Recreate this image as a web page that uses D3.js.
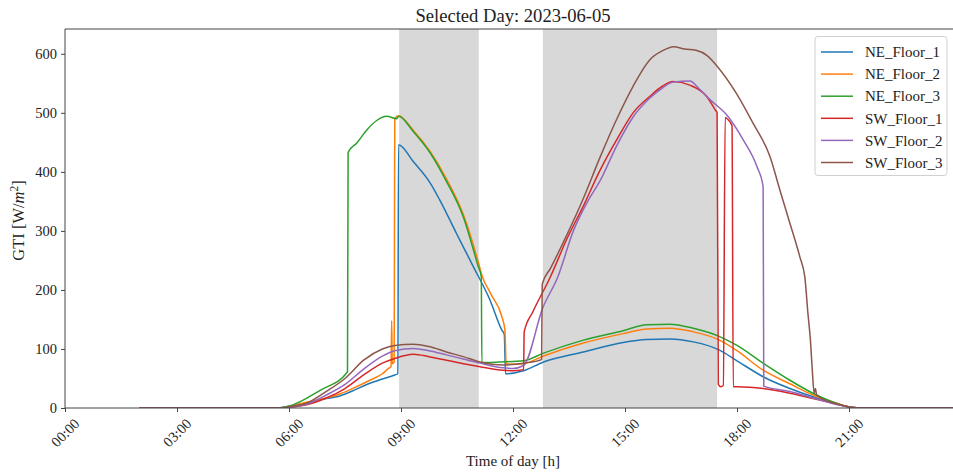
<!DOCTYPE html>
<html lang="en">
	<head>
		<meta charset="utf-8">
		<title>GTI - Selected Day</title>
		<script type="text/javascript" src="https://cdn.jsdelivr.net/npm/d3@7/dist/d3.min.js"></script>
		<style type="text/css">
			body { margin: 0; background: #fff; }
			text { font-family: "Liberation Serif", "Times New Roman", serif; fill: #222; }
		</style>
	</head>
	<body>
		<script type="text/javascript">

			// values: [time of day, GTI in W/m2]
			var neFloor1 = [["02:00",0],["05:40",0],["06:00",3],["06:30",9],["07:00",16],["07:17",19],["07:40",28],["08:10",42],["08:30",49],["08:50",56],["08:55",58],
				["08:56",446],["09:20",417],["09:47",381],["10:02",353],["10:29",296],["10:56",240],["11:23",183],["11:42",132],["11:46",125],
				["11:48",58],["12:17",63],["12:49",78],["13:53",95],["14:57",111],["15:35",116],["16:12",117],["16:50",112],["17:32",98],["18:00",80],
				["18:42",53],["19:25",33],["20:02",19],["20:40",7],["21:06",1],["21:30",0],["23:59",0]];

			var neFloor2 = [["02:00",0],["05:45",0],["06:00",3],["06:30",10],["07:00",17],["07:17",22],["07:40",32],["08:10",47],["08:30",58],["08:40",67],["08:44",70],
				["08:45",148],["08:46",75],["08:49",78],["08:50",490],["08:56",495],["09:20",470],["09:47",434],["10:13",388],["10:40",328],["11:04",248],
				["11:10",225],["11:25",192],["11:42",155],["11:47",132],["11:49",76],["11:55",74],["12:17",75],["12:49",88],["13:53",110],["14:57",126],
				["15:35",134],["16:12",135],["16:50",129],["17:32",115],["18:00",97],["18:42",64],["19:25",41],["20:02",22],["20:40",8],["21:06",1],["21:30",0],["23:59",0]];

			var neFloor3 = [["02:00",0],["05:40",0],["06:00",3],["06:50",30],["07:34",61],["07:35",433],["07:49",449],["08:05",471],["08:21",487],["08:37",494],
				["08:53",490],["08:56",494],["09:20",468],["09:47",432],["10:13",384],["10:40",324],["11:04",240],["11:09",222],["11:10",77],["11:39",78],
				["12:17",80],["12:49",93],["13:53",115],["14:57",131],["15:35",141],["16:12",142],["16:50",135],["17:32",121],["18:00",106],["18:42",76],
				["19:25",47],["20:02",25],["20:40",8],["21:06",1],["21:30",0],["23:59",0]];

			var swFloor1 = [["02:00",0],["05:45",0],["06:00",1],["06:30",6],["07:00",17],["07:30",33],["08:00",56],["08:30",76],["08:50",84],["09:20",91],["09:45",87],
				["10:13",81],["10:40",75],["11:07",70],["11:44",64],["12:00",63],["12:17",65],["12:18",129],["12:32",163],["13:00",222],["13:26",285],["13:53",342],
				["14:20",403],["14:47",455],["15:13",500],["15:40",528],["16:00",545],["16:17",553],["16:44",547],["17:11",528],["17:25",505],["17:28",500],
				["17:30",40],["17:34",36],["17:38",38],["17:41",492],["17:46",488],["17:52",478],["17:54",36],["18:00",36],["18:42",33],["19:25",25],
				["20:02",16],["20:40",7],["21:06",1],["21:30",0],["23:59",0]];

			var swFloor2 = [["02:00",0],["05:45",0],["06:00",1],["06:30",7],["07:00",22],["07:30",40],["08:00",66],["08:30",88],["08:50",97],["09:20",101],["09:45",97],
				["10:13",90],["10:40",83],["11:07",76],["11:44",68],["12:00",67],["12:17",72],["12:48",170],["13:12",222],["13:37",300],["14:00",350],["14:20",385],
				["14:47",445],["15:13",493],["15:40",525],["16:00",542],["16:17",552],["16:44",554],["17:00",540],["17:17",522],["17:43",497],["18:10",454],
				["18:32",409],["18:42",375],["18:43",37],["19:25",28],["20:02",17],["20:40",6],["21:06",1],["21:30",0],["23:59",0]];

			var swFloor3 = [["02:00",0],["05:45",0],["06:00",2],["06:30",9],["07:00",28],["07:30",50],["08:00",81],["08:30",100],["08:50",106],["09:20",108],["09:45",104],
				["10:13",95],["10:40",87],["11:07",78],["11:44",73],["12:17",76],["12:46",82],["12:47",210],["13:00",236],["13:26",292],["13:53",355],["14:20",425],
				["14:47",490],["15:13",545],["15:40",590],["16:00",605],["16:18",612],["16:36",608],["16:54",606],["17:12",597],["17:28",579],["17:59",533],
				["18:26",482],["18:53",426],["19:09",369],["19:25",313],["19:41",256],["19:49",222],["19:54",160],["19:58",115],["20:01",64],["20:04",25],
				["20:06",33],["20:08",22],["20:40",7],["21:06",1],["21:30",0],["23:59",0]];

			var seriesNames = ["NE_Floor_1", "NE_Floor_2", "NE_Floor_3", "SW_Floor_1", "SW_Floor_2", "SW_Floor_3"];
			var seriesData = [neFloor1, neFloor2, neFloor3, swFloor1, swFloor2, swFloor3];
			var colors = ["#1f77b4", "#ff7f0e", "#2ca02c", "#d62728", "#9467bd", "#8c564b"];

			// shaded periods
			var shadeStart = ["08:57", "12:48"];
			var shadeEnd = ["11:05", "17:28"];

			var yTicks = [0, 100, 200, 300, 400, 500, 600];
			var xTicks = ["00:00", "03:00", "06:00", "09:00", "12:00", "15:00", "18:00", "21:00"];

			var w = 953;
			var h = 473;
			var padLeft = 65, padTop = 29, plotRight = 961, plotBottom = 408;

			var parseTime = d3.timeParse("%H:%M");
			var day0 = parseTime("00:00");
			var day1 = d3.timeDay.offset(day0, 1);

			var xScale = d3.scaleTime()
						   .domain([day0, day1])
						   .range([padLeft, plotRight]);

			var yScale = d3.scaleLinear()
						   .domain([0, 642])
						   .range([plotBottom, padTop]);

			var svg = d3.select("body")
						.append("svg")
						.attr("width", w)
						.attr("height", h);

			svg.append("defs").append("clipPath")
			   .attr("id", "plot")
			   .append("rect")
			   .attr("x", padLeft)
			   .attr("y", padTop)
			   .attr("width", plotRight - padLeft)
			   .attr("height", plotBottom - padTop);

			var plot = svg.append("g").attr("clip-path", "url(#plot)");

			// grey spans
			plot.selectAll("rect.shade")
				.data(shadeStart)
				.enter()
				.append("rect")
				.attr("class", "shade")
				.attr("x", function(d) { return xScale(parseTime(d)); })
				.attr("y", padTop)
				.attr("width", function(d, i) { return xScale(parseTime(shadeEnd[i])) - xScale(parseTime(d)); })
				.attr("height", plotBottom - padTop)
				.attr("fill", "#d8d8d8");

			var line = d3.line()
						 .curve(d3.curveMonotoneX)
						 .x(function(d) { return xScale(parseTime(d[0])); })
						 .y(function(d) { return yScale(d[1]); });

			plot.selectAll("path.series")
				.data(seriesData)
				.enter()
				.append("path")
				.attr("class", "series")
				.attr("d", line)
				.attr("fill", "none")
				.attr("stroke", function(d, i) { return colors[i]; })
				.attr("stroke-width", 1.5)
				.attr("stroke-linejoin", "round");

			// axes
			var yAxis = d3.axisLeft(yScale)
						  .tickValues(yTicks)
						  .tickSize(4)
						  .tickPadding(4);

			var xAxis = d3.axisBottom(xScale)
						  .tickValues(xTicks.map(parseTime))
						  .tickFormat(d3.timeFormat("%H:%M"))
						  .tickSize(4);

			var gy = svg.append("g")
						.attr("transform", "translate(" + padLeft + ",0)")
						.call(yAxis);

			var gx = svg.append("g")
						.attr("transform", "translate(0," + plotBottom + ")")
						.call(xAxis);

			[gx, gy].forEach(function(g) {
				g.select(".domain").remove();
				g.selectAll(".tick line").attr("stroke", "#444").attr("stroke-width", 1);
				g.selectAll(".tick text")
				 .attr("font-family", "Liberation Serif, serif")
				 .attr("font-size", "14.5px")
				 .attr("fill", "#222");
			});

			gx.selectAll(".tick text")
			  .attr("y", 0)
			  .attr("dy", "0.32em")
			  .attr("text-anchor", "middle")
			  .attr("transform", "translate(0,25) rotate(-45)");

			// spines
			svg.append("path")
			   .attr("d", "M" + padLeft + "," + plotBottom + "V" + padTop + "H" + (plotRight + 2) + "M" + padLeft + "," + plotBottom + "H" + (plotRight + 2))
			   .attr("fill", "none")
			   .attr("stroke", "#444")
			   .attr("stroke-width", 1);

			// title and labels
			svg.append("text")
			   .attr("x", (padLeft + plotRight) / 2)
			   .attr("y", 22)
			   .attr("text-anchor", "middle")
			   .attr("font-size", "18.6px")
			   .text("Selected Day: 2023-06-05");

			svg.append("text")
			   .attr("x", (padLeft + plotRight) / 2)
			   .attr("y", 466)
			   .attr("text-anchor", "middle")
			   .attr("font-size", "15px")
			   .text("Time of day [h]");

			var ylab = svg.append("text")
						  .attr("transform", "translate(24," + ((padTop + plotBottom) / 2 + 2) + ") rotate(-90)")
						  .attr("text-anchor", "middle")
						  .attr("font-size", "16.5px");
			ylab.append("tspan").text("GTI [W/");
			ylab.append("tspan").attr("font-style", "italic").text("m");
			ylab.append("tspan").attr("font-size", "11.5px").attr("dy", "-0.5em").text("2");
			ylab.append("tspan").attr("dy", "0.35em").text("]");

			// legend
			var legend = svg.append("g");
			legend.append("rect")
				  .attr("x", 815)
				  .attr("y", 36.5)
				  .attr("width", 132)
				  .attr("height", 139)
				  .attr("rx", 3)
				  .attr("fill", "#fff")
				  .attr("fill-opacity", 0.8)
				  .attr("stroke", "#d0d0d0")
				  .attr("stroke-width", 1);

			var rows = legend.selectAll("g.row")
							 .data(seriesNames)
							 .enter()
							 .append("g")
							 .attr("class", "row")
							 .attr("transform", function(d, i) { return "translate(0," + (52 + i * 22.1) + ")"; });

			rows.append("line")
				.attr("x1", 821)
				.attr("x2", 853)
				.attr("stroke", function(d, i) { return colors[i]; })
				.attr("stroke-width", 1.5);

			rows.append("text")
				.attr("x", 865)
				.attr("dy", "0.35em")
				.attr("font-size", "15px")
				.text(function(d) { return d; });

		</script>
	</body>
</html>
